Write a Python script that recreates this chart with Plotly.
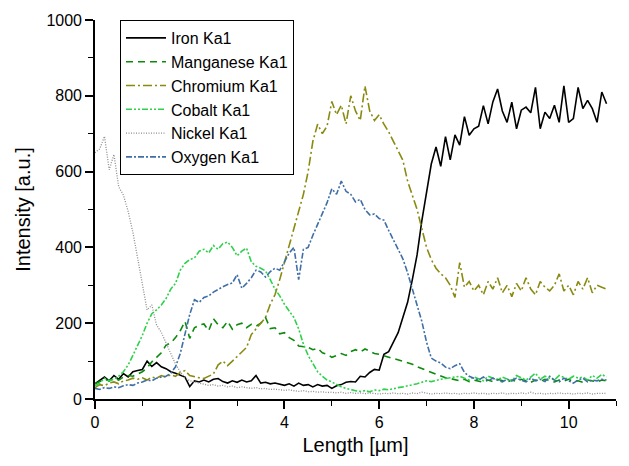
import plotly.graph_objects as go

# Position along the line scan, µm (0.1 µm steps)
length_um = [round(i * 0.1, 1) for i in range(109)]

iron = [40, 50, 58, 48, 62, 52, 67, 58, 72, 75,
        78, 100, 86, 96, 85, 80, 72, 68, 62, 58,
        33, 48, 45, 50, 45, 52, 54, 46, 42, 48,
        44, 50, 45, 48, 62, 42, 44, 40, 42, 38,
        36, 40, 34, 42, 36, 38, 32, 38, 34, 36,
        28, 35, 38, 44, 46, 45, 60, 58, 70, 78,
        76, 118, 125, 150, 175, 215, 255, 315, 380, 470,
        545, 620, 665, 614, 692, 631, 697, 670, 745, 696,
        713, 720, 774, 726, 784, 818, 760, 730, 783, 713,
        762, 770, 755, 822, 713, 757, 740, 775, 730, 826,
        730, 740, 822, 766, 788, 766, 730, 810, 779]

manganese = [40, 45, 52, 48, 55, 50, 58, 62, 60, 66,
             72, 82, 98, 110, 122, 142, 148, 162, 180, 205,
             160, 188, 195, 198, 180, 212, 196, 188, 205, 184,
             196, 200, 188, 197, 192, 200, 215, 186, 188, 172,
             175, 162, 155, 140, 138, 136, 130, 134, 122, 118,
             110, 116, 120, 115, 125, 130, 124, 132, 125, 120,
             118, 114, 110, 108, 102, 100, 96, 92, 85, 80,
             74, 70, 64, 60, 56, 54, 50, 48, 52, 46,
             50, 48, 44, 50, 46, 52, 48, 45, 50, 46,
             52, 48, 44, 50, 46, 52, 48, 45, 50, 47,
             52, 46, 48, 44, 50, 47, 45, 50, 48]

chromium = [30, 38, 35, 42, 45, 40, 48, 50, 55, 52,
            56, 50, 58, 55, 62, 58, 64, 60, 70, 75,
            62, 58, 56, 54, 60, 66, 90, 100, 88, 100,
            112, 122, 136, 170, 185, 200, 215, 250, 275, 315,
            360, 400, 450, 495, 540, 600, 680, 725, 700, 720,
            785, 750, 775, 726, 800, 760, 735, 826, 760, 735,
            750, 725, 705, 680, 655, 630, 575, 540, 500, 450,
            400, 368, 345, 330, 320, 300, 268, 360, 295, 310,
            285, 300, 275, 310, 290, 320, 280, 300, 270, 305,
            285, 320, 290, 275, 310, 295, 285, 300, 330, 285,
            300, 275, 310, 290, 320, 280, 300, 295, 290]

cobalt = [35, 42, 55, 48, 52, 60, 72, 90, 115, 140,
          168, 200, 225, 235, 248, 265, 290, 305, 340, 358,
          368, 372, 390, 395, 385, 405, 395, 410, 414, 400,
          378, 390, 398, 362, 350, 345, 338, 315, 290, 272,
          250, 232, 215, 185, 145, 115, 95, 72, 60, 50,
          45, 38, 32, 28, 24, 22, 20, 22, 19, 24,
          22, 26, 24, 28, 30, 32, 35, 36, 40, 44,
          48, 46, 50, 52, 54, 56, 58, 60, 55, 50,
          58, 52, 48, 60, 55, 50, 58, 52, 48, 62,
          55, 50, 58, 68, 52, 60, 55, 50, 62, 56,
          52, 60, 55, 58, 50, 62, 55, 65, 58]

nickel = [650, 660, 693, 605, 645, 560, 538, 495, 440, 375,
          300, 235, 248, 195, 176, 150, 120, 92, 72, 56,
          48, 45, 42, 38, 36, 38, 34, 36, 32, 34,
          30, 32, 30, 28, 30, 27, 28, 25, 26, 24,
          23, 24, 22, 20, 22, 19, 20, 18, 19, 17,
          18, 16, 18, 15, 17, 15, 16, 14, 16, 15,
          13, 15, 14, 16, 14, 15, 13, 16, 14, 18,
          15, 13, 15, 14, 16, 14, 15, 13, 15, 14,
          16, 14, 15, 13, 15, 14, 16, 13, 15, 14,
          16, 14, 18, 14, 15, 13, 15, 14, 16, 14,
          15, 13, 15, 14, 16, 13, 15, 14, 15]

oxygen = [28, 25, 30, 28, 32, 30, 35, 38, 36, 42,
          45, 50, 48, 55, 58, 60, 68, 85, 120, 170,
          223, 262, 255, 268, 272, 282, 290, 296, 302, 306,
          328, 292, 305, 320, 340, 335, 322, 336, 345, 340,
          362, 385, 400, 315, 395, 400, 432, 462, 490, 518,
          555, 540, 575, 548, 540, 520, 527, 500, 486, 488,
          476, 472, 445, 420, 392, 370, 333, 292, 252, 205,
          150, 108, 100, 95, 84, 80, 88, 93, 70, 60,
          55, 50, 58, 48, 55, 50, 45, 52, 48, 55,
          50, 45, 55, 48, 52, 46, 60, 50, 45, 55,
          48, 42, 50, 55, 45, 50, 48, 52, 50]

series = [
    ("Iron Ka1", iron, "#000000", "solid", 1.6),
    ("Manganese Ka1", manganese, "#0b8a0b", "7px,5px", 1.6),
    ("Chromium Ka1", chromium, "#8a8a10", "9px,3px,2px,3px", 1.6),
    ("Cobalt Ka1", cobalt, "#2ed14a", "6px,2px,2px,2px,2px,2px", 1.6),
    ("Nickel Ka1", nickel, "#8c8c8c", "1px,1.5px", 1.3),
    ("Oxygen Ka1", oxygen, "#3f6fa6", "6px,2px,2px,2px", 1.6),
]

fig = go.Figure()
for name, values, color, dash, width in series:
    fig.add_trace(go.Scatter(
        x=length_um, y=values, mode="lines", name=name,
        line=dict(color=color, dash=dash, width=width),
    ))

axis_font = dict(family="Liberation Sans, Arial, sans-serif", size=16, color="#000000")

fig.update_layout(
    width=629, height=466,
    margin=dict(l=95, r=13, t=15, b=67),
    paper_bgcolor="white", plot_bgcolor="white",
    font=axis_font,
    showlegend=True,
    legend=dict(
        x=0.048, y=1.0, xanchor="left", yanchor="top",
        bgcolor="white", bordercolor="black", borderwidth=1,
        font=dict(family="Liberation Sans, Arial, sans-serif", size=16, color="#000000"),
        tracegroupgap=0, itemwidth=40,
    ),
)

fig.update_xaxes(
    range=[0, 11], dtick=2, tick0=0,
    showline=True, linecolor="black", linewidth=1.6,
    ticks="outside", ticklen=8, tickwidth=1.6, tickcolor="black",
    minor=dict(ticks="outside", ticklen=5, tickwidth=1.3, dtick=1, tickcolor="black"),
    showgrid=False, zeroline=False, mirror=False,
    title=dict(text="Length [µm]", font=dict(size=20), standoff=8),
    tickfont=axis_font,
)
fig.update_yaxes(
    range=[0, 1000], dtick=200, tick0=0,
    showline=True, linecolor="black", linewidth=1.6,
    ticks="outside", ticklen=8, tickwidth=1.6, tickcolor="black",
    minor=dict(ticks="outside", ticklen=5, tickwidth=1.3, dtick=100, tickcolor="black"),
    showgrid=False, zeroline=False, mirror=False,
    title=dict(text="Intensity [a.u.]", font=dict(size=20), standoff=10),
    tickfont=axis_font,
)

fig.write_html("out.html")
